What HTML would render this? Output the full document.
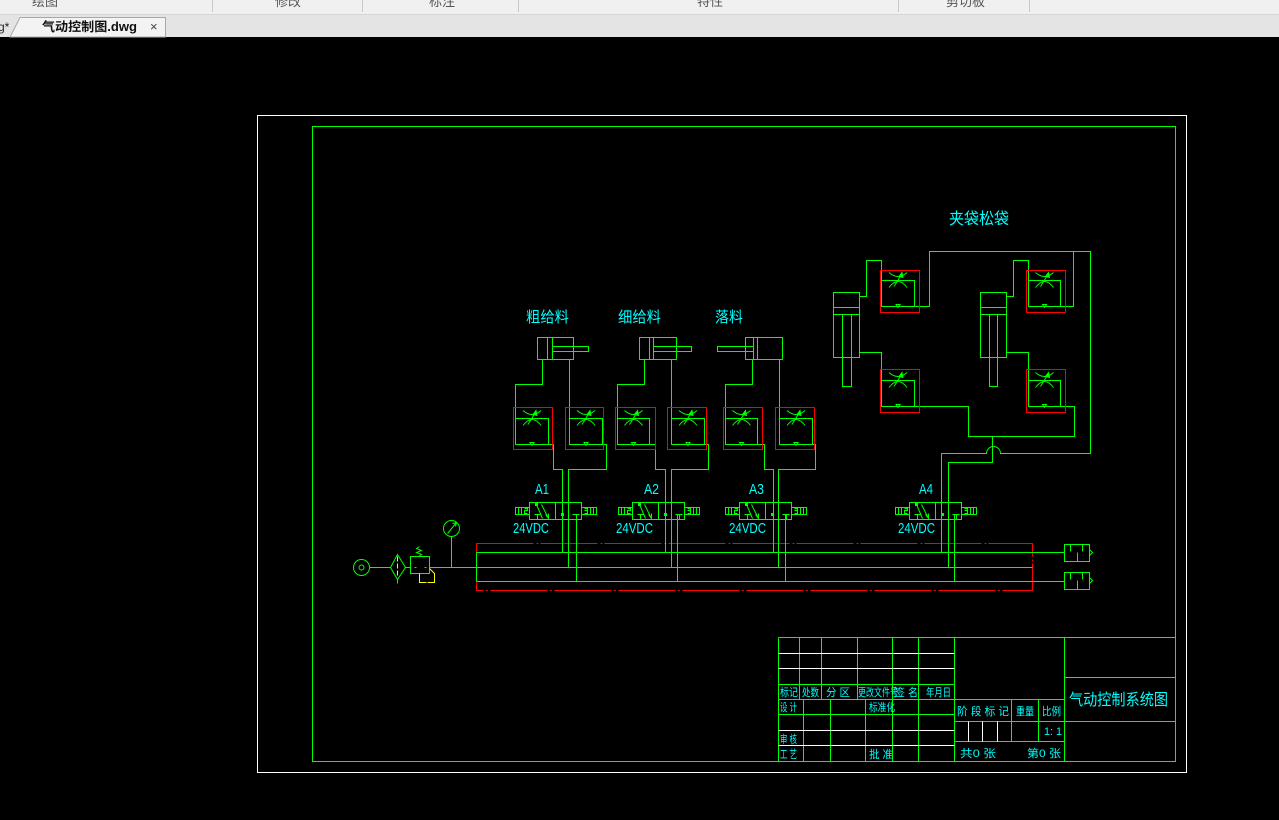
<!DOCTYPE html>
<html><head><meta charset="utf-8"><style>
html,body{margin:0;padding:0;background:#000;width:1279px;height:820px;overflow:hidden}
svg{display:block}
.cy{fill:#00ffff;font-family:"Liberation Sans","Noto Sans CJK SC",sans-serif}
.lt{fill:#00ffff;font-family:"Liberation Sans",sans-serif}
.tb{fill:#555;font-family:"Liberation Sans","Noto Sans CJK SC",sans-serif;font-size:13px}
</style></head><body>
<svg width="1279" height="820" viewBox="0 0 1279 820" xmlns="http://www.w3.org/2000/svg">
<defs>
<g id="vv" fill="none" stroke="#00ff00" stroke-width="1">
 <rect x="0" y="0" width="52" height="17"/>
 <line x1="26" y1="0" x2="26" y2="17"/>
 <rect x="-14" y="5" width="14" height="7"/>
 <path d="M-11,5 V12 M-8,5 V12 M-5,6 H-2 V8 H-5 V11 H-2"/>
 <rect x="52" y="5" width="15" height="7"/>
 <path d="M55,6 H58 V8 H55 M58,8 V11 H55 M61,5 V12 M64,5 V12"/>
 <path d="M7,2 L13,16 M12,2 L19,16 M16,12 L19,16 L19,11"/>
 <path d="M5,12 H11 M8,12 V17"/>
 <path d="M43,12 H50 M47,12 V17"/>
 <rect x="6" y="1" width="2" height="2" fill="#00ff00"/>
 <rect x="32" y="11" width="2" height="2" fill="#00ff00"/>
</g>
<g id="fv" fill="none" stroke="#00ff00" stroke-width="1">
 <path d="M-9,-8 Q0,0 9,-8"/>
 <path d="M-9,7 Q0,-5 9,7"/>
 <path d="M-4,6 L4,-7"/>
 <path d="M4,-8 L1,-4 L5,-3 Z" fill="#00ff00"/>
 <path d="M-2,24 L2,24 L0,27 Z"/>
</g>
</defs>
<rect width="1279" height="820" fill="#000"/>
<!-- top bar -->
<rect x="0" y="0" width="1279" height="14" fill="#f0f0f0"/>
<rect x="0" y="14" width="1279" height="1" fill="#d6d6d6"/>
<rect x="0" y="15" width="1279" height="22" fill="#e4e4e4"/>
<text class="tb" x="32" y="6">绘图</text>
<text class="tb" x="275" y="6">修改</text>
<text class="tb" x="429" y="6">标注</text>
<text class="tb" x="697" y="6">特性</text>
<text class="tb" x="946" y="6">剪切板</text>
<g fill="#c8c8c8">
<rect x="212" y="0" width="1" height="12"/><rect x="362" y="0" width="1" height="12"/>
<rect x="518" y="0" width="1" height="12"/><rect x="898" y="0" width="1" height="12"/>
<rect x="1029" y="0" width="1" height="12"/>
</g>
<polygon points="10,37 20,17.5 165.5,17.5 165.5,37" fill="#f3f3f3" stroke="#a8a8a8" stroke-width="1"/>
<text x="-2" y="31" style="font-family:'Liberation Sans',sans-serif;font-size:12px;fill:#222">g*</text>
<text x="42" y="31" textLength="95" lengthAdjust="spacingAndGlyphs" style="font-family:'Liberation Sans','Noto Sans CJK SC',sans-serif;font-size:12.5px;font-weight:bold;fill:#111">气动控制图.dwg</text>
<text x="150" y="31" style="font-family:'Liberation Sans',sans-serif;font-size:13px;fill:#444">×</text>

<g transform="translate(0.5,0.5)" fill="none" stroke-width="1">
<!-- frames -->
<rect x="257" y="115" width="929" height="657" stroke="#ffffff"/>
<rect x="312" y="126" width="863" height="635" stroke="#00ff00"/>

<!-- manifold red -->
<rect x="476" y="543" width="556" height="47" stroke="#ff0000" stroke-dasharray="57 3 2 2"/>

<g stroke="#00ff00">
<!-- manifold green -->
<path d="M476,552 H1064 M429,567 H1032 M476,581 H1064 M476,552 V581"/>
<path d="M369,567 H390 M405,567 H410"/>
<!-- mufflers -->
<rect x="1064" y="544" width="25" height="17"/>
<path d="M1070,544 V551 M1082,544 V551 M1077,552 V561 M1089,549 L1092,552 L1089,555"/>
<rect x="1064" y="572" width="25" height="17"/>
<path d="M1070,572 V579 M1082,572 V579 M1077,580 V589 M1089,577 L1092,580 L1089,583"/>
<!-- inlet -->
<circle cx="361" cy="567" r="8"/>
<circle cx="361" cy="567" r="2.5"/>
<polygon points="397,554 405,567 397,579 390,567"/>
<path d="M397,579 V583"/>
<rect x="410" y="556" width="19" height="17"/>
<path d="M418,556 L421,554 L416,552 L421,550 L416,548 L419,546"/>
<path d="M414,567 H416 M424,567 H426"/>
<circle cx="451" cy="528" r="8"/>
<path d="M447,533 L456,522 M456,522 L452,523 M456,522 L455,526 M451,536 V567"/>

<!-- left cylinders -->
<rect x="537" y="337" width="36" height="22"/>
<path d="M547,337 V359 M552,337 V359"/>
<rect x="552" y="346" width="36" height="5"/>
<rect x="639" y="337" width="37" height="22"/>
<path d="M649,337 V359 M653,337 V359"/>
<rect x="653" y="346" width="38" height="5"/>
<rect x="745" y="337" width="37" height="22"/>
<path d="M753,337 V359 M757,337 V359"/>
<rect x="717" y="346" width="36" height="5"/>

<!-- left pipes -->
<path d="M542,359 V384 H515 V444 M548,444 H553 V469 H562 V552"/>
<path d="M569,359 V444 M602,444 H606 V469 H568 V567 M576,514 V581"/>
<path d="M644,359 V384 H617 V444 M649,444 H655 V469 H665 V552"/>
<path d="M671,359 V444 M704,444 H708 V469 H671 V567 M677,514 V581"/>
<path d="M752,359 V384 H725 V444 M757,444 H764 V469 H773 V552"/>
<path d="M779,359 V444 M812,444 H815 V469 H778 V567 M785,514 V581"/>

<!-- flow valves inner rects -->
<rect x="515" y="418" width="33" height="26"/>
<rect x="569" y="418" width="33" height="26"/>
<rect x="617" y="418" width="32" height="26"/>
<rect x="671" y="418" width="33" height="26"/>
<rect x="725" y="418" width="32" height="26"/>
<rect x="779" y="418" width="33" height="26"/>
<rect x="881" y="280" width="33" height="26"/>
<rect x="1028" y="280" width="32" height="26"/>
<rect x="881" y="380" width="33" height="26"/>
<rect x="1028" y="380" width="32" height="26"/>

<!-- right cylinders -->
<rect x="833" y="292" width="26" height="65"/>
<path d="M833,307 H859 M833,314 H859 M842,314 V386 H851 V314"/>
<rect x="980" y="292" width="26" height="65"/>
<path d="M980,307 H1006 M980,314 H1006 M989,314 V386 H997 V314"/>

<!-- right pipes -->
<path d="M859,296 H866 V260 H881 V306 M914,306 H929 V251 H1090 V453 H1000 A7,7 0 0 0 986,453 H941 V552"/>
<path d="M1060,306 H1073 V251"/>
<path d="M1006,296 H1013 V260 H1028 V306"/>
<path d="M859,352 H881 V406 M914,406 H968 V436 H1074 V406 H1060"/>
<path d="M1006,352 H1028 V406"/>
<path d="M992,436 V462 H948 V567 M954,514 V581"/>

<!-- title block green -->
<path d="M778,637 H1175 M778,637 V761"/>
<path d="M799,637 V699 M821,637 V699 M857,637 V699"/>
<path d="M892,637 V761 M918,637 V761 M954,637 V761 M1064,637 V761"/>
<path d="M803,699 V761 M830,699 V761 M865,699 V761"/>
<path d="M778,684 H954 M778,699 H1064 M778,714 H954"/>
<path d="M954,721 H1175 M954,741 H1064 M1064,677 H1175"/>
<path d="M1011,699 V741 M1038,699 V741"/>
</g>

<!-- yellow bits -->
<g stroke="#ffff00">
<path d="M397,556 V577" stroke-dasharray="5 2"/>
<path d="M429,568 L434,573 V582 H427 M426,582 H419 V573"/>
</g>

<!-- title block white -->
<g stroke="#ffffff">
<path d="M778,653 H954 M778,668 H954 M778,730 H954 M778,745 H954"/>
<path d="M968,721 V741 M982,721 V741 M997,721 V741"/>
</g>

<!-- red flow valve boxes -->
<g stroke="#ff0000">
<rect x="513" y="407" width="39" height="42"/>
<rect x="565" y="407" width="38" height="42"/>
<rect x="615" y="407" width="40" height="42"/>
<rect x="667" y="407" width="39" height="42"/>
<rect x="723" y="407" width="39" height="42"/>
<rect x="775" y="407" width="39" height="42"/>
<rect x="880" y="270" width="39" height="42"/>
<rect x="1026" y="270" width="39" height="42"/>
<rect x="880" y="369" width="39" height="43"/>
<rect x="1026" y="369" width="39" height="43"/>
</g>

<!-- flow valve symbols -->
<use href="#fv" x="531.5" y="418"/>
<use href="#fv" x="585.5" y="418"/>
<use href="#fv" x="633" y="418"/>
<use href="#fv" x="687.5" y="418"/>
<use href="#fv" x="741" y="418"/>
<use href="#fv" x="795.5" y="418"/>
<use href="#fv" x="897.5" y="280"/>
<use href="#fv" x="1044" y="280"/>
<use href="#fv" x="897.5" y="380"/>
<use href="#fv" x="1044" y="380"/>

<!-- valves -->
<use href="#vv" x="529" y="502"/>
<use href="#vv" x="632" y="502"/>
<use href="#vv" x="739" y="502"/>
<use href="#vv" x="909" y="502"/>
</g>

<!-- labels -->
<g class="cy">
<text x="526" y="322" font-size="15" textLength="43" lengthAdjust="spacingAndGlyphs">粗给料</text>
<text x="618" y="322" font-size="15" textLength="43" lengthAdjust="spacingAndGlyphs">细给料</text>
<text x="715" y="322" font-size="15" textLength="28" lengthAdjust="spacingAndGlyphs">落料</text>
<text x="949" y="224" font-size="16" textLength="60" lengthAdjust="spacingAndGlyphs">夹袋松袋</text>
<text x="1069" y="705" font-size="16" textLength="99" lengthAdjust="spacingAndGlyphs">气动控制系统图</text>
</g>
<g class="lt" font-size="15">
<text x="535" y="494" textLength="14" lengthAdjust="spacingAndGlyphs">A1</text>
<text x="644" y="494" textLength="15" lengthAdjust="spacingAndGlyphs">A2</text>
<text x="749" y="494" textLength="15" lengthAdjust="spacingAndGlyphs">A3</text>
<text x="919" y="494" textLength="14" lengthAdjust="spacingAndGlyphs">A4</text>
<text x="513" y="533" textLength="36" lengthAdjust="spacingAndGlyphs">24VDC</text>
<text x="616" y="533" textLength="37" lengthAdjust="spacingAndGlyphs">24VDC</text>
<text x="729" y="533" textLength="37" lengthAdjust="spacingAndGlyphs">24VDC</text>
<text x="898" y="533" textLength="37" lengthAdjust="spacingAndGlyphs">24VDC</text>
</g>
<!-- title block text -->
<g class="cy" font-size="11">
<text x="780" y="696" textLength="18" lengthAdjust="spacingAndGlyphs">标记</text>
<text x="802" y="696" textLength="17" lengthAdjust="spacingAndGlyphs">处数</text>
<text x="826" y="696" textLength="24" lengthAdjust="spacingAndGlyphs">分 区</text>
<text x="858" y="696" textLength="40" lengthAdjust="spacingAndGlyphs">更改文件号</text>
<text x="893" y="696" textLength="12" lengthAdjust="spacingAndGlyphs">签</text>
<text x="908" y="696" textLength="10" lengthAdjust="spacingAndGlyphs">名</text>
<text x="926" y="696" textLength="25" lengthAdjust="spacingAndGlyphs">年月日</text>
<text x="780" y="711" textLength="17" lengthAdjust="spacingAndGlyphs">设 计</text>
<text x="869" y="711" textLength="26" lengthAdjust="spacingAndGlyphs">标准化</text>
<text x="780" y="743" textLength="17" lengthAdjust="spacingAndGlyphs">审 核</text>
<text x="780" y="758" textLength="17" lengthAdjust="spacingAndGlyphs">工 艺</text>
<text x="869" y="758" textLength="24" lengthAdjust="spacingAndGlyphs">批 准</text>
<text x="957" y="715" textLength="52" lengthAdjust="spacingAndGlyphs">阶 段 标 记</text>
<text x="1016" y="715" textLength="18" lengthAdjust="spacingAndGlyphs">重量</text>
<text x="1042" y="715" textLength="19" lengthAdjust="spacingAndGlyphs">比例</text>
<text x="1044" y="735" textLength="18" lengthAdjust="spacingAndGlyphs">1: 1</text>
<text x="960" y="757" textLength="36" lengthAdjust="spacingAndGlyphs">共0 张</text>
<text x="1027" y="757" textLength="34" lengthAdjust="spacingAndGlyphs">第0 张</text>
</g>
</svg>
</body></html>
